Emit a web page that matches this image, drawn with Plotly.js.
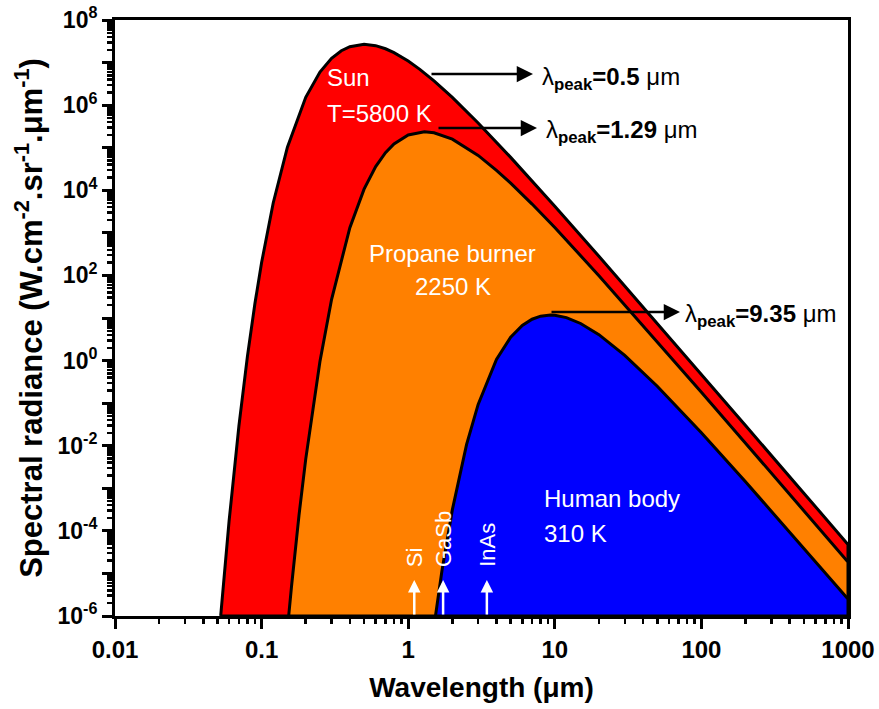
<!DOCTYPE html>
<html><head><meta charset="utf-8">
<script src="https://cdn.plot.ly/plotly-3.0.1.min.js"></script>
<style>html,body{margin:0;padding:0;background:#fff}</style>
</head><body><div id="chart" style="width:879px;height:709px"></div>
<script>
// ---- data (wavelength in µm, radiance) ----
const sunWavelength = [0.0526,0.055,0.06,0.07,0.08,0.09,0.1,0.12,0.15,0.2,0.25,0.3,0.35,0.4,0.5,0.6,0.7,0.8,1,1.2,1.5,2,3,5,7,10,20,50,100,200,500,1000];
const sunRadiance = [1e-6,6.1e-6,1.69e-4,2.88e-2,1.24,21.6,201,5035,1.031e5,1.528e6,5.98e6,1.256e7,1.896e7,2.361e7,2.688e7,2.492e7,2.110e7,1.713e7,1.087e7,6.93e6,3.71e6,1.515e6,3.81e5,5.93e4,1.666e4,4230,281.8,7.49,0.474,0.0298,7.66e-4,4.80e-5];

const propaneWavelength = [0.153,0.155,0.16,0.18,0.2,0.25,0.3,0.4,0.5,0.6,0.7,0.8,1,1.29,1.5,2,3,4,5,7,10,20,50,100,200,500,1000];
const propaneRadiance = [1e-6,1.61e-6,4.99e-6,2.35e-4,4.84e-3,0.949,27.1,1326,1.064e4,3.602e4,7.64e4,1.228e5,1.993e5,2.362e5,2.240e5,1.586e5,6.60e4,2.947e4,1.470e4,4745,1330,98.8,2.794,0.1804,0.01146,2.96e-4,1.857e-5];

const humanWavelength = [1.535,1.6,1.7,2,2.5,3,4,5,6,7,8,9.35,10,12,15,20,30,50,100,200,500,1000];
const humanRadiance = [1e-6,2.86e-6,1.167e-5,3.107e-4,0.01056,0.0936,1.063,3.547,6.69,9.36,11.02,11.73,11.60,10.22,7.44,4.055,1.325,0.249,0.02017,1.425e-3,3.91e-5,2.506e-6];

const peakLabels = ['0.5','1.29','9.35'];
const detectorNames = ['Si','GaSb','InAs'];
const detectorCutoff = [1.1, 1.73, 3.44];

const xTickVals = [0.01,0.1,1,10,100,1000];
const xTickText = ['0.01','0.1','1','10','100','1000'];
const yExponents = [-6,-5,-4,-3,-2,-1,0,1,2,3,4,5,6,7,8];

// ---- build ----
const Y_FLOOR = 1e-6;
const FONT = 'Liberation Sans, Arial, sans-serif';

function area(wl, val, color, name){
  return {
    x: wl.concat([wl[wl.length-1], wl[0]]),
    y: val.concat([Y_FLOOR, Y_FLOOR]),
    type:'scatter', mode:'lines', fill:'toself', fillcolor:color,
    line:{color:'#000', width:3}, name:name, hoverinfo:'skip', showlegend:false
  };
}
const traces = [
  area(sunWavelength, sunRadiance, '#ff0000', 'Sun'),
  area(propaneWavelength, propaneRadiance, '#ff8000', 'Propane burner'),
  area(humanWavelength, humanRadiance, '#0000ff', 'Human body')
];

const yTickVals = yExponents.map(e => Math.pow(10, e));
const yTickText = yExponents.map(e => e % 2 === 0 ? '<b>10<sup>' + e + '</sup></b>' : '');
function minorVals(lo, hi){
  const out = [];
  for (let e = lo; e < hi; e++) for (let m = 2; m <= 9; m++) out.push(m * Math.pow(10, e));
  return out;
}

const P = (px) => (px - 115) / 733;           // pixel -> paper x helper for labels
const Q = (py) => 1 - (py - 20) / 596;        // pixel -> paper y helper for labels

const annotations = [];
function txt(text, x, y, xanchor, size, color, extra){
  annotations.push(Object.assign({text:text, x:x, y:y, xref:'paper', yref:'paper', xanchor:xanchor, yanchor:'middle',
    showarrow:false, font:{family:FONT, size:size, color:color}}, extra||{}));
}
txt('Sun', P(325), Q(77), 'left', 24, '#fff');
txt('T=5800 K', P(325), Q(113), 'left', 24, '#fff');
txt('Propane burner', P(452), Q(253), 'center', 24, '#fff');
txt('2250 K', P(453), Q(286), 'center', 24, '#fff');
txt('Human body', P(542), Q(498), 'left', 24, '#fff');
txt('310 K', P(542), Q(533), 'left', 24, '#fff');

// peak arrows
const arrowHead = [[533,74],[537,128],[680,312]];
const arrowTail = [430,437,550];
const labelLeft = [540,544,683];
peakLabels.forEach((p, i) => {
  annotations.push({x:P(arrowHead[i][0]), y:Q(arrowHead[i][1]), xref:'paper', yref:'paper', text:'',
    showarrow:true, arrowhead:2, arrowsize:1.3, arrowwidth:2.5, arrowcolor:'#000',
    ax:arrowTail[i]-arrowHead[i][0], ay:0});
  txt('λ<sub><b>peak</b></sub><b>=' + p + ' </b>μm', P(labelLeft[i]), Q(arrowHead[i][1]+4), 'left', 24, '#000');
});

// detector cutoffs
detectorNames.forEach((n, i) => {
  const lx = Math.log10(detectorCutoff[i]);
  annotations.push({x:lx, y:Q(580), xref:'x', yref:'paper', text:'', showarrow:true,
    arrowhead:2, arrowsize:1, arrowwidth:2.5, arrowcolor:'#fff', ax:0, ay:36});
  annotations.push({x:lx, y:Q(569), xref:'x', yref:'paper', text:n, textangle:-90, showarrow:false,
    xanchor:'center', yanchor:'bottom', font:{family:FONT, size:22, color:'#fff'}});
});

const layout = {
  width:879, height:709,
  margin:{l:115, r:31, t:20, b:93},
  paper_bgcolor:'#fff', plot_bgcolor:'#fff',
  font:{family:FONT, color:'#000'},
  showlegend:false,
  xaxis:{
    type:'log', range:[-2,3], showgrid:false, zeroline:false,
    showline:true, linecolor:'#000', linewidth:3, mirror:true,
    tickmode:'array', tickvals:xTickVals, ticktext:xTickText.map(t => '<b>' + t + '</b>'),
    ticks:'outside', ticklen:10, tickwidth:3, tickcolor:'#000',
    tickfont:{family:FONT, size:24, color:'#000'},
    minor:{tickmode:'array', tickvals:minorVals(-2,3), ticks:'outside', ticklen:5, tickwidth:2.5, tickcolor:'#000', showgrid:false},
    title:{text:'<b>Wavelength (μm)</b>', font:{family:FONT, size:28, color:'#000'}, standoff:16},
    automargin:false
  },
  yaxis:{
    type:'log', range:[-6,8], showgrid:false, zeroline:false,
    showline:true, linecolor:'#000', linewidth:3, mirror:true,
    tickmode:'array', tickvals:yTickVals, ticktext:yTickText,
    ticks:'outside', ticklen:10, tickwidth:3, tickcolor:'#000',
    tickfont:{family:FONT, size:23, color:'#000'},
    minor:{tickmode:'array', tickvals:minorVals(-6,8), ticks:'outside', ticklen:5, tickwidth:2.5, tickcolor:'#000', showgrid:false},
    title:{text:'<b>Spectral radiance (W.cm<sup>-2</sup>.sr<sup>-1</sup>.μm<sup>-1</sup>)</b>', font:{family:FONT, size:31, color:'#000'}, standoff:6},
    automargin:false
  },
  annotations:annotations
};

Plotly.newPlot('chart', traces, layout, {displayModeBar:false, staticPlot:true});
</script>
</body></html>
